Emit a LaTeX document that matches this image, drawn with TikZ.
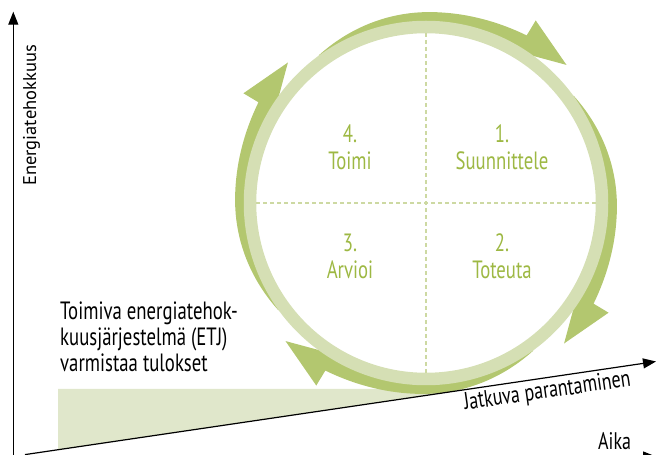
\documentclass[tikz,border=0pt]{standalone}
\usepackage{fontspec}
\setmainfont{PT Sans}[FakeStretch=0.75]
\newfontfamily\ptnormal{PT Sans}
\usetikzlibrary{arrows.meta}
\definecolor{ringc}{HTML}{D5DFB4}
\definecolor{arrc}{HTML}{B3C76F}
\definecolor{txtg}{HTML}{9DB843}
\definecolor{fillc}{HTML}{E0E7CB}
\definecolor{dashc}{HTML}{CDD9A2}
\begin{document}
\begin{tikzpicture}[x=1pt,y=1pt,
  declare function={ro(\t)=182.5+8*sin(90*min(1.8*\t,1))+5*\t^4;},
  axis/.style={line width=1.2pt, -{Triangle[length=13pt,width=10pt]}},
  lab/.style={text=txtg, font=\fontsize{25}{27}\selectfont, anchor=base, inner sep=0pt},
  blk/.style={text=black, font=\fontsize{25}{27}\selectfont, anchor=base west, inner sep=0pt},
  dsh/.style={dashc, line width=1.2pt, dash pattern=on 4pt off 3pt}]
\useasboundingbox (0,0) rectangle (656,455);
\coordinate (C) at (426,252);
% light area
\coordinate (f1) at (58,66);
\coordinate (f2) at (469.6,66);
\coordinate (f3) at (58,5.27);
\fill[fillc] (f1) -- (f2) -- (f3) -- cycle;
% dark arrows
\foreach \B in {59,-31,-121,149}{
  \pgfmathsetmacro\T{\B+67}
  \pgfmathsetmacro\Tip{\B-14.5}
  \pgfmathsetmacro\In{\B+7}
  \fill[arrc] plot[domain=\T:\B, samples=40, variable=\a]
     ({426+ro((\T-\a)/67)*cos(\a)},{252+ro((\T-\a)/67)*sin(\a)})
     -- ([shift={(C)}]\B:213) -- ([shift={(C)}]\Tip:197) -- ([shift={(C)}]\In:172)
     arc[start angle=\In, end angle=\T, radius=172] -- cycle;
}
% ring
\draw[ringc, line width=12.5pt] (C) circle[radius=176];
% dashed cross
\coordinate (vt) at (426,422);
\coordinate (vb) at (426,82);
\coordinate (hl) at (256,252);
\coordinate (hr) at (596,252);
\draw[dsh] (vt) -- (vb);
\draw[dsh] (hl) -- (hr);
% quadrant labels
\node[lab] (n4) at (350,312) {4.};
\node[lab] (t4) at (350,285.7) {Toimi};
\node[lab] (n1) at (502,312) {1.};
\node[lab] (t1) at (502,285.7) {Suunnittele};
\node[lab] (n3) at (350,203.3) {3.};
\node[lab] (t3) at (350,176) {Arvioi};
\node[lab] (n2) at (502,203.3) {2.};
\node[lab] (t2) at (502,176) {Toteuta};
% left text
\node[blk] (l1) at (60,135) {Toimiva energiatehok-};
\node[blk] (l2) at (60,109) {kuusjärjestelmä (ETJ)};
\node[blk] (l3) at (60,83) {varmistaa tulokset};
% axes
\coordinate (y0) at (13.3,-2);
\coordinate (y1) at (13.3,443.3);
\coordinate (s0) at (25,0.4);
\coordinate (s1) at (656,93.5);
\coordinate (b0) at (13.3,-1.5);
\coordinate (b1) at (656,-1.5);
\draw[axis] (y0) -- (y1);
\draw[axis] (s0) -- (s1);
\draw[axis] (b0) -- (b1);
\node[blk, font=\ptnormal\fontsize{18.5}{20}\selectfont, rotate=90] (ey) at (36,269) {Energiatehokkuus};
\node[blk, font=\fontsize{24}{26}\selectfont, rotate=8.2] (jp) at (465,45) {Jatkuva parantaminen};
\node[blk, font=\fontsize{24}{26}\selectfont, text depth=0pt] (ai) at (598,5.5) {Aika};
\end{tikzpicture}
\end{document}
